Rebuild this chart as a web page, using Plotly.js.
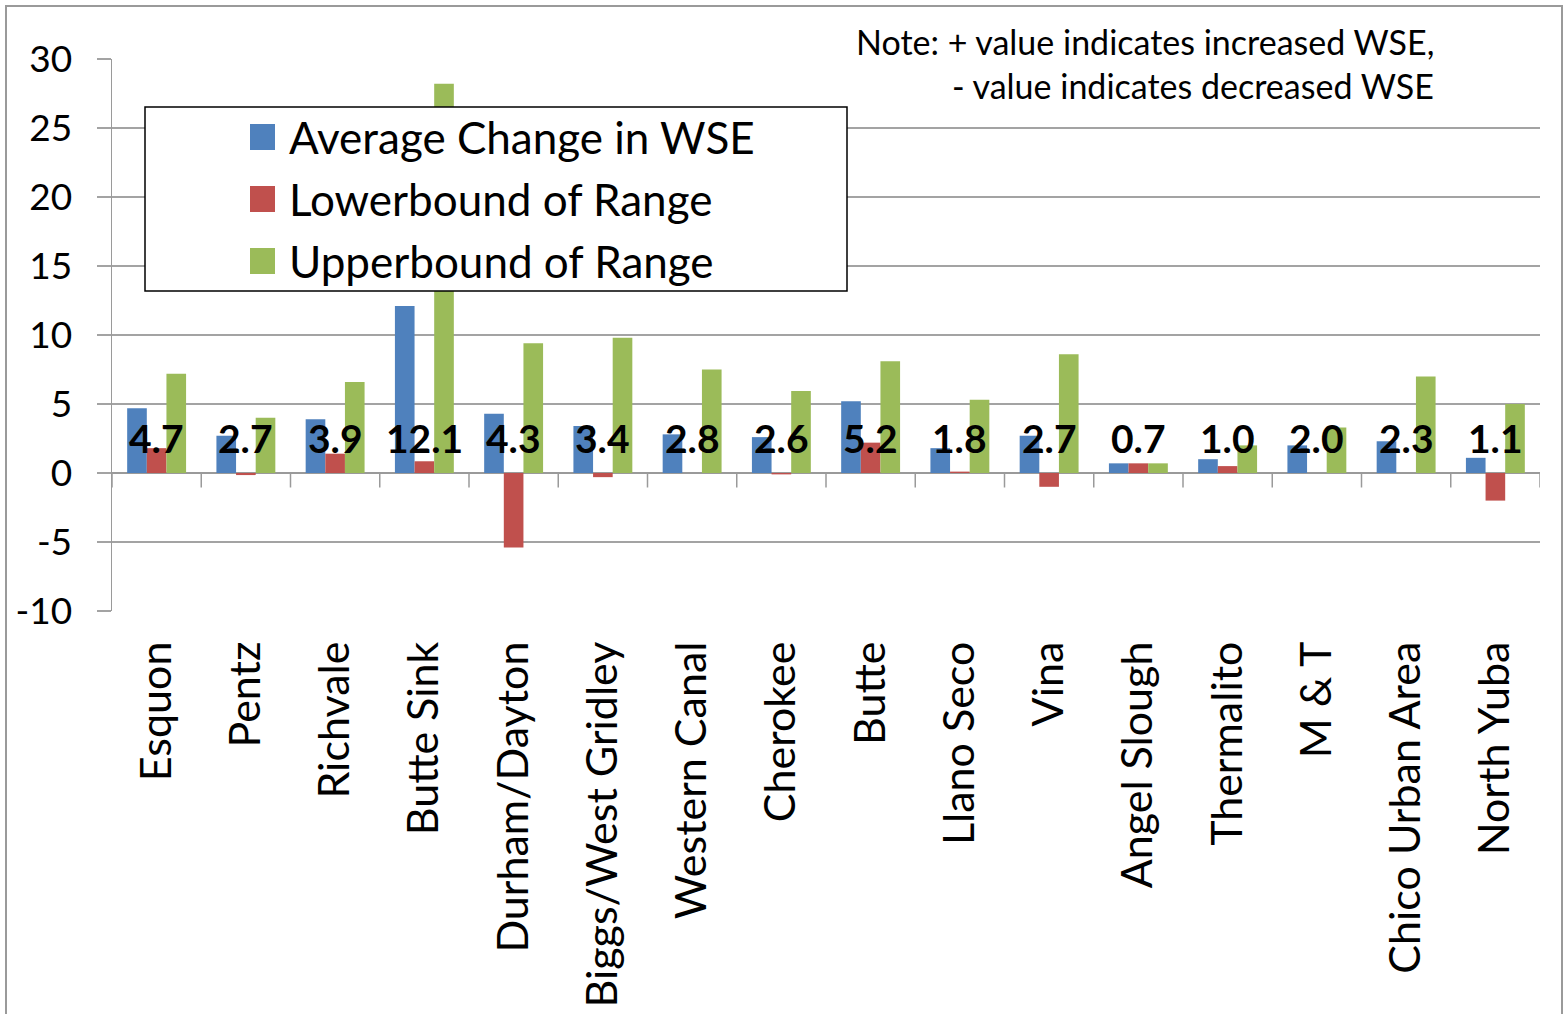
<!DOCTYPE html>
<html>
<head>
<meta charset="utf-8">
<script src="https://cdn.plot.ly/plotly-3.0.1.min.js"></script>
<style>
html,body{margin:0;padding:0;background:#fff;}
#wrap{position:relative;width:1566px;height:1014px;overflow:hidden;}
#chart{position:absolute;left:0;top:0;width:1566px;height:1014px;}
#frame{position:absolute;left:5px;top:5px;width:1554px;height:1030px;border:2px solid #9a9a9a;pointer-events:none;}
</style>
</head>
<body>
<div id="wrap"><div id="chart"></div><div id="frame"></div></div>
<script>
var categories = ["Esquon","Pentz","Richvale","Butte Sink","Durham/Dayton","Biggs/West Gridley","Western Canal","Cherokee","Butte","Llano Seco","Vina","Angel Slough","Thermalito","M & T","Chico Urban Area","North Yuba"];
var avgChange = [4.7, 2.7, 3.9, 12.1, 4.3, 3.4, 2.8, 2.6, 5.2, 1.8, 2.7, 0.7, 1.0, 2.0, 2.3, 1.1];
var lowerBound = [1.8, -0.15, 1.4, 0.85, -5.4, -0.3, 0.0, -0.1, 2.2, 0.1, -1.0, 0.7, 0.5, 0.0, 0.0, -2.0];
var upperBound = [7.2, 4.0, 6.6, 28.2, 9.4, 9.8, 7.5, 5.95, 8.1, 5.3, 8.6, 0.7, 2.0, 3.3, 7.0, 5.0];
var seriesNames = ["Average Change in WSE", "Lowerbound of Range", "Upperbound of Range"];
var yTicks = [-10, -5, 0, 5, 10, 15, 20, 25, 30];
var noteLines = ["Note: + value indicates increased WSE,", "- value indicates decreased WSE"];

var colors = ["#4F81BD", "#C0504D", "#9BBB59"];
var FONT = "Lato, 'Liberation Sans', Arial, sans-serif";

// layout geometry in px
var W = 1566, H = 1014, ML = 112, MR = 26, MT = 59, MB = 403;
var PW = W - ML - MR, PH = H - MT - MB;
function px2x(p){ return (p - ML) / PW; }
function py2y(p){ return (H - MB - p) / PH; }

var seriesVals = [avgChange, lowerBound, upperBound];
var traces = seriesVals.map(function(v, i){
  return {type: "bar", x: categories, y: v, name: seriesNames[i],
          marker: {color: colors[i], line: {width: 0}}, showlegend: false, hoverinfo: "x+y"};
});

var shapes = [];
var annotations = [];

// category boundary ticks on zero line
for (var i = 0; i <= categories.length; i++) {
  shapes.push({type: "line", xref: "x", yref: "y", x0: i - 0.5, x1: i - 0.5, y0: 0, y1: -1.05,
               line: {color: "#9a9a9a", width: 1.5}, layer: "above"});
}

// data labels of the average
categories.forEach(function(c, i){
  annotations.push({x: c, y: 2.55, xref: "x", yref: "y", text: avgChange[i].toFixed(1), showarrow: false,
                    font: {family: FONT, size: 39, color: "#000", weight: "bold"}, xanchor: "center", yanchor: "middle"});
});

// legend box (manual)
shapes.push({type: "rect", xref: "paper", yref: "paper", x0: px2x(145), x1: px2x(847), y0: py2y(291), y1: py2y(107),
             fillcolor: "#fff", line: {color: "#000", width: 1.5}, layer: "above"});
var rowY = [137, 199, 261];
seriesNames.forEach(function(n, i){
  shapes.push({type: "rect", xref: "paper", yref: "paper", x0: px2x(250), x1: px2x(275),
               y0: py2y(rowY[i] + 13), y1: py2y(rowY[i] - 13), fillcolor: colors[i], line: {width: 0}, layer: "above"});
  annotations.push({xref: "paper", yref: "paper", x: px2x(287), y: py2y(rowY[i]), text: n, showarrow: false,
                    xanchor: "left", yanchor: "middle", font: {family: FONT, size: 44, color: "#000"}});
});

// note
annotations.push({xref: "paper", yref: "paper", x: px2x(1436), y: py2y(41), text: noteLines[0], showarrow: false,
                  xanchor: "right", yanchor: "middle", font: {family: FONT, size: 34, color: "#000"}});
annotations.push({xref: "paper", yref: "paper", x: px2x(1436), y: py2y(85), text: noteLines[1], showarrow: false,
                  xanchor: "right", yanchor: "middle", font: {family: FONT, size: 34, color: "#000"}});

var layout = {
  width: W, height: H,
  margin: {l: ML, r: MR, t: MT, b: MB, pad: 0},
  paper_bgcolor: "#fff", plot_bgcolor: "#fff",
  barmode: "group", bargap: 0.34, bargroupgap: 0,
  showlegend: false,
  font: {family: FONT, color: "#000"},
  xaxis: {type: "category", range: [-0.5, categories.length - 0.5], showgrid: false, zeroline: false,
          showline: false, ticks: "", tickangle: -90, ticklabelstandoff: 21,
          tickfont: {family: FONT, size: 43, color: "#000"}, automargin: false, fixedrange: true},
  yaxis: {range: [-10, 30], tickvals: yTicks, ticktext: yTicks.map(String), showgrid: true,
          gridcolor: "#a3a3a3", gridwidth: 1.5, zeroline: true, zerolinecolor: "#9a9a9a", zerolinewidth: 1.5,
          showline: true, linecolor: "#9a9a9a", linewidth: 1.5, ticks: "outside", ticklen: 14,
          tickcolor: "#a3a3a3", tickwidth: 1.5, ticklabelstandoff: 17,
          tickfont: {family: FONT, size: 37, color: "#000"}, automargin: false, fixedrange: true},
  shapes: shapes,
  annotations: annotations
};

Plotly.newPlot("chart", traces, layout, {displayModeBar: false, staticPlot: true});
</script>
</body>
</html>
